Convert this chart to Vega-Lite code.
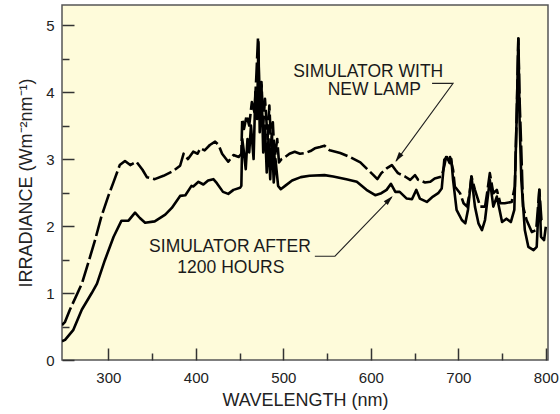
{
  "$schema": "https://vega.github.io/schema/vega-lite/v6.json",
  "width": 486,
  "height": 355,
  "autosize": {"type": "none"},
  "padding": {"left": 62, "top": 5, "right": 12, "bottom": 54},
  "background": "white",
  "config": {
    "view": {"fill": "#FEFBDA", "stroke": "#555555", "strokeWidth": 1.5},
    "font": "Liberation Sans"
  },
  "datasets": {
    "newlamp": [
      {"x": 247, "y": 0.52}, {"x": 250.5, "y": 0.57}, {"x": 256, "y": 0.75}, {"x": 262, "y": 0.92},
      {"x": 270, "y": 1.15}, {"x": 277, "y": 1.45}, {"x": 285, "y": 1.8}, {"x": 292, "y": 2.14},
      {"x": 300, "y": 2.45}, {"x": 306, "y": 2.66}, {"x": 313, "y": 2.91}, {"x": 319, "y": 2.97},
      {"x": 325, "y": 2.91}, {"x": 332, "y": 2.96}, {"x": 339, "y": 2.84}, {"x": 344, "y": 2.73},
      {"x": 353, "y": 2.7}, {"x": 363, "y": 2.75}, {"x": 374, "y": 2.82}, {"x": 382, "y": 2.9},
      {"x": 386, "y": 3.08}, {"x": 391, "y": 3.0}, {"x": 397, "y": 3.11}, {"x": 402, "y": 3.08},
      {"x": 405, "y": 3.16}, {"x": 410, "y": 3.13}, {"x": 416, "y": 3.21}, {"x": 422, "y": 3.26},
      {"x": 426, "y": 3.21}, {"x": 430, "y": 3.08}, {"x": 437, "y": 2.96}, {"x": 443, "y": 3.06},
      {"x": 449, "y": 3.03}, {"x": 452, "y": 3.08}, {"x": 453, "y": 3.6}, {"x": 455, "y": 3.45},
      {"x": 458, "y": 3.65}, {"x": 461, "y": 3.5}, {"x": 464, "y": 3.85}, {"x": 467, "y": 3.7},
      {"x": 469, "y": 4.2}, {"x": 471, "y": 4.8}, {"x": 473, "y": 3.8}, {"x": 475, "y": 4.15},
      {"x": 477, "y": 3.5}, {"x": 479, "y": 3.9}, {"x": 482, "y": 3.3}, {"x": 484, "y": 3.8},
      {"x": 486, "y": 3.2}, {"x": 488, "y": 3.55}, {"x": 490, "y": 3.0}, {"x": 493, "y": 3.3},
      {"x": 495, "y": 2.95}, {"x": 498, "y": 3.0}, {"x": 502, "y": 3.03}, {"x": 507, "y": 3.08},
      {"x": 513, "y": 3.11}, {"x": 519, "y": 3.08}, {"x": 525, "y": 3.09}, {"x": 531, "y": 3.12},
      {"x": 536, "y": 3.16}, {"x": 542, "y": 3.18}, {"x": 547, "y": 3.2}, {"x": 553, "y": 3.13},
      {"x": 565, "y": 3.09}, {"x": 576, "y": 3.03}, {"x": 588, "y": 2.95}, {"x": 595, "y": 2.86},
      {"x": 603, "y": 2.76}, {"x": 607.5, "y": 2.7}, {"x": 612, "y": 2.79}, {"x": 618, "y": 2.86},
      {"x": 624, "y": 2.91}, {"x": 628, "y": 2.84}, {"x": 631, "y": 2.79}, {"x": 639, "y": 2.74},
      {"x": 645, "y": 2.69}, {"x": 650.5, "y": 2.76}, {"x": 654, "y": 2.69}, {"x": 662, "y": 2.65},
      {"x": 668, "y": 2.66}, {"x": 673, "y": 2.71}, {"x": 681, "y": 2.74}, {"x": 684, "y": 2.9},
      {"x": 686, "y": 3.03}, {"x": 688.6, "y": 2.95}, {"x": 690.5, "y": 3.03}, {"x": 694, "y": 2.84},
      {"x": 696, "y": 2.59}, {"x": 702, "y": 2.49}, {"x": 706, "y": 2.34}, {"x": 710, "y": 2.29},
      {"x": 713, "y": 2.5}, {"x": 715, "y": 2.74}, {"x": 719, "y": 2.54}, {"x": 725, "y": 2.29},
      {"x": 730.5, "y": 2.29}, {"x": 733, "y": 2.5}, {"x": 736, "y": 2.79}, {"x": 740, "y": 2.49},
      {"x": 744, "y": 2.54}, {"x": 748, "y": 2.34}, {"x": 753, "y": 2.34}, {"x": 761, "y": 2.36},
      {"x": 764.6, "y": 2.59}, {"x": 767, "y": 3.8}, {"x": 768.6, "y": 4.8}, {"x": 770, "y": 3.9},
      {"x": 771.6, "y": 3.28}, {"x": 774, "y": 2.29}, {"x": 778, "y": 2.09}, {"x": 784, "y": 1.91},
      {"x": 789, "y": 1.94}, {"x": 792.6, "y": 2.54}, {"x": 795, "y": 2.09}, {"x": 800, "y": 2.09}
    ],
    "after": [
      {"x": 247, "y": 0.28}, {"x": 250.5, "y": 0.3}, {"x": 260, "y": 0.45}, {"x": 269.6, "y": 0.75},
      {"x": 281, "y": 1.0}, {"x": 287, "y": 1.14}, {"x": 296, "y": 1.49}, {"x": 306, "y": 1.84},
      {"x": 315, "y": 2.08}, {"x": 323, "y": 2.08}, {"x": 330.5, "y": 2.2}, {"x": 336, "y": 2.12},
      {"x": 342, "y": 2.05}, {"x": 353, "y": 2.07}, {"x": 365, "y": 2.17}, {"x": 372.5, "y": 2.27},
      {"x": 382, "y": 2.45}, {"x": 388, "y": 2.46}, {"x": 395, "y": 2.6}, {"x": 397, "y": 2.59},
      {"x": 403, "y": 2.66}, {"x": 408.6, "y": 2.62}, {"x": 414, "y": 2.68}, {"x": 420, "y": 2.7},
      {"x": 424, "y": 2.64}, {"x": 431, "y": 2.51}, {"x": 437, "y": 2.48}, {"x": 443, "y": 2.54},
      {"x": 450.5, "y": 2.57}, {"x": 452, "y": 2.6}, {"x": 453, "y": 3.3}, {"x": 455, "y": 3.1},
      {"x": 457, "y": 2.85}, {"x": 459, "y": 3.3}, {"x": 461, "y": 3.1}, {"x": 463, "y": 3.5},
      {"x": 466, "y": 3.0}, {"x": 468, "y": 4.0}, {"x": 470, "y": 3.6}, {"x": 471.5, "y": 4.75},
      {"x": 473, "y": 3.4}, {"x": 475, "y": 4.1}, {"x": 477, "y": 3.1}, {"x": 479, "y": 3.5},
      {"x": 481, "y": 2.8}, {"x": 483, "y": 3.3}, {"x": 485, "y": 2.7}, {"x": 487, "y": 3.35},
      {"x": 489, "y": 2.65}, {"x": 491, "y": 3.0}, {"x": 494, "y": 2.6}, {"x": 497, "y": 2.55},
      {"x": 502, "y": 2.6}, {"x": 510, "y": 2.68}, {"x": 520, "y": 2.73}, {"x": 530, "y": 2.75},
      {"x": 547, "y": 2.76}, {"x": 557, "y": 2.74}, {"x": 572, "y": 2.7}, {"x": 584, "y": 2.66},
      {"x": 595, "y": 2.54}, {"x": 605, "y": 2.46}, {"x": 612, "y": 2.49}, {"x": 618, "y": 2.54},
      {"x": 623, "y": 2.63}, {"x": 628, "y": 2.51}, {"x": 633, "y": 2.51}, {"x": 641, "y": 2.41},
      {"x": 647, "y": 2.4}, {"x": 652, "y": 2.54}, {"x": 656, "y": 2.41}, {"x": 664, "y": 2.36},
      {"x": 671, "y": 2.44}, {"x": 677, "y": 2.49}, {"x": 681, "y": 2.56}, {"x": 684, "y": 2.99},
      {"x": 687, "y": 3.03}, {"x": 690, "y": 2.94}, {"x": 692, "y": 3.0}, {"x": 694, "y": 2.69},
      {"x": 698, "y": 2.24}, {"x": 704, "y": 2.09}, {"x": 708, "y": 2.04}, {"x": 711, "y": 2.24},
      {"x": 715, "y": 2.74}, {"x": 719, "y": 2.29}, {"x": 723, "y": 2.04}, {"x": 727, "y": 1.94},
      {"x": 730.5, "y": 2.09}, {"x": 736, "y": 2.69}, {"x": 740, "y": 2.29}, {"x": 744, "y": 2.44},
      {"x": 750, "y": 2.06}, {"x": 755, "y": 2.11}, {"x": 760, "y": 2.06}, {"x": 764, "y": 2.24},
      {"x": 767, "y": 3.8}, {"x": 768.6, "y": 4.8}, {"x": 770, "y": 3.6}, {"x": 772, "y": 2.69},
      {"x": 776, "y": 1.94}, {"x": 780, "y": 1.69}, {"x": 786, "y": 1.64}, {"x": 789.6, "y": 1.69},
      {"x": 792.6, "y": 2.54}, {"x": 794.5, "y": 1.84}, {"x": 798, "y": 1.79}, {"x": 800, "y": 1.99}
    ],
    "labels": [
      {"x": 597, "y": 4.3, "t": "SIMULATOR WITH"},
      {"x": 604, "y": 4.03, "t": "NEW LAMP"},
      {"x": 439, "y": 1.69, "t": "SIMULATOR AFTER"},
      {"x": 440, "y": 1.37, "t": "1200 HOURS"}
    ],
    "leaders": [
      {"g": "new", "o": 1, "x": 670, "y": 4.13},
      {"g": "new", "o": 2, "x": 694, "y": 4.13},
      {"g": "new", "o": 3, "x": 629, "y": 2.97},
      {"g": "after", "o": 1, "x": 536, "y": 1.55},
      {"g": "after", "o": 2, "x": 559, "y": 1.55},
      {"g": "after", "o": 3, "x": 624, "y": 2.43}
    ],
    "heads": [
      {"x": 628, "y": 2.96, "a": 216},
      {"x": 625, "y": 2.45, "a": 44}
    ]
  },
  "layer": [
    {
      "data": {"name": "newlamp"},
      "mark": {"type": "line", "stroke": "black", "strokeWidth": 2.6, "strokeDash": [20, 4], "strokeJoin": "round", "clip": true},
      "encoding": {
        "x": {"field": "x", "type": "quantitative",
          "scale": {"domain": [247, 802.5], "nice": false, "zero": false},
          "axis": {"orient": "bottom", "values": [300, 400, 500, 600, 700, 800], "tickSize": -12, "tickWidth": 1.5, "tickColor": "#333333",
            "domain": false, "grid": false, "labelFontSize": 15, "labelColor": "#222222", "labelPadding": 22, "labelFlush": false,
            "title": "WAVELENGTH (nm)", "titleFontSize": 18, "titleFontWeight": "normal", "titleColor": "#222222", "titlePadding": 6}},
        "y": {"field": "y", "type": "quantitative",
          "scale": {"domain": [0, 5.3], "nice": false, "zero": false},
          "axis": {"orient": "left", "values": [0, 1, 2, 3, 4, 5], "tickSize": -12, "tickWidth": 1.5, "tickColor": "#333333",
            "domain": false, "grid": false, "labelFontSize": 15, "labelColor": "#222222", "labelPadding": 20, "labelFlush": false,
            "title": "IRRADIANCE (Wm⁻²nm⁻¹)", "titleFontSize": 18, "titleFontWeight": "normal", "titleColor": "#222222", "titlePadding": 10}}
      }
    },
    {
      "data": {"name": "after"},
      "mark": {"type": "line", "stroke": "black", "strokeWidth": 2.6, "strokeJoin": "round", "clip": true},
      "encoding": {
        "x": {"field": "x", "type": "quantitative",
          "scale": {"domain": [247, 802.5], "nice": false, "zero": false},
          "axis": {"orient": "bottom", "values": [350, 450, 550, 650, 750], "tickSize": -7, "tickWidth": 1.5, "tickColor": "#333333",
            "domain": false, "grid": false, "labels": false, "title": null}},
        "y": {"field": "y", "type": "quantitative",
          "scale": {"domain": [0, 5.3], "nice": false, "zero": false},
          "axis": {"orient": "left", "values": [0.5, 1.5, 2.5, 3.5, 4.5], "tickSize": -7, "tickWidth": 1.5, "tickColor": "#333333",
            "domain": false, "grid": false, "labels": false, "title": null}}
      }
    },
    {
      "data": {"name": "leaders"},
      "mark": {"type": "line", "stroke": "#222222", "strokeWidth": 1.1},
      "encoding": {
        "x": {"field": "x", "type": "quantitative", "axis": null},
        "y": {"field": "y", "type": "quantitative", "axis": null},
        "detail": {"field": "g"},
        "order": {"field": "o"}
      }
    },
    {
      "data": {"name": "heads"},
      "mark": {"type": "point", "shape": "M0,0L0.55,2L-0.55,2Z", "filled": true, "fill": "#111111", "stroke": null, "size": 100, "opacity": 1},
      "encoding": {
        "x": {"field": "x", "type": "quantitative", "axis": null},
        "y": {"field": "y", "type": "quantitative", "axis": null},
        "angle": {"field": "a", "type": "quantitative", "scale": null}
      }
    },
    {
      "data": {"name": "labels"},
      "mark": {"type": "text", "font": "Liberation Sans", "fontSize": 17.5, "fill": "#1a1a1a", "align": "center", "baseline": "middle"},
      "encoding": {
        "x": {"field": "x", "type": "quantitative", "axis": null},
        "y": {"field": "y", "type": "quantitative", "axis": null},
        "text": {"field": "t"}
      }
    }
  ],
  "resolve": {"axis": {"x": "independent", "y": "independent"}}
}
